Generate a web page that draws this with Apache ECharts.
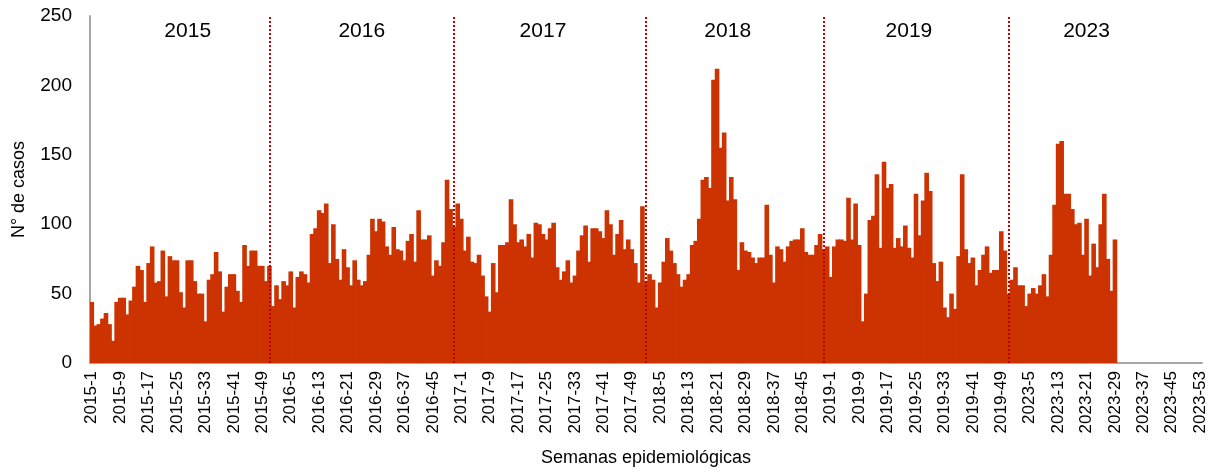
<!DOCTYPE html>
<html><head><meta charset="utf-8">
<script src="https://cdn.jsdelivr.net/npm/echarts@6/dist/echarts.min.js"></script>
<style>html,body{margin:0;padding:0;background:#fff}#c{width:1217px;height:472px}</style>
</head><body><div id="c"></div>
<script>
const yearList = [2015, 2016, 2017, 2018, 2019, 2023];
const weeksPerYear = [52, 52, 52, 52, 52, 53];
const cases2015 = [44,27,28,32,36,28,16,44,47,47,35,45,55,70,67,44,72,84,58,59,81,48,77,74,74,
  51,40,74,74,59,50,50,30,60,64,80,66,37,55,64,64,52,44,85,70,81,81,70,70,59,70,41];
const cases2016 = [56,46,59,56,66,40,62,66,64,58,93,97,110,108,115,72,100,75,60,82,69,56,74,60,56,59,
  78,104,95,104,102,84,78,98,82,81,74,88,93,73,110,89,89,92,63,74,70,87,132,111,98,115];
const cases2017 = [104,81,91,73,72,78,63,48,37,72,51,85,85,87,118,100,87,89,84,93,76,101,100,93,89,97,
  101,69,60,66,74,58,63,81,92,99,73,97,97,95,90,110,100,78,93,103,82,89,82,72,58,113];
const cases2018 = [59,64,60,40,58,73,90,81,72,64,55,60,64,85,88,104,132,134,126,204,212,155,166,117,134,118,67,
  87,81,80,76,72,76,76,114,78,58,84,82,73,84,88,89,89,97,80,78,78,85,93,82,84];
const cases2019 = [62,84,89,89,88,119,89,115,85,30,50,103,106,136,83,145,126,129,83,90,84,99,83,76,122,92,117,137,
  124,72,59,73,40,33,50,39,77,136,82,72,76,56,67,78,84,65,67,67,95,81,50,60];
const cases2023 = [69,56,56,41,50,54,50,56,64,48,78,114,158,160,122,122,111,100,101,78,104,63,86,69,100,122,75,52,89];
const yAxisTicks = [0, 50, 100, 150, 200, 250];
const xAxisTitle = 'Semanas epidemiológicas';
const yAxisTitle = 'N° de casos';

const casesByYear = [cases2015, cases2016, cases2017, cases2018, cases2019, cases2023];
const categories = [];
const values = [];
yearList.forEach((y, k) => {
  for (let w = 1; w <= weeksPerYear[k]; w++) {
    categories.push(y + '-' + w);
    const v = casesByYear[k][w - 1];
    values.push(v === undefined ? null : v);
  }
});

// divider lines & year-label anchors (layout, expressed as categories)
const dividerCats = ['2015-51', '2016-51', '2018-1', '2018-51', '2019-51'];
const yearLabelCats = ['2015-28', '2016-25', '2017-24', '2018-24', '2019-23', '2023-21'];

const FONT = '"Liberation Sans", Arial, sans-serif';
const BAR = '#cc3300';
const chart = echarts.init(document.getElementById('c'), null, {renderer: 'canvas'});
chart.setOption({
  animation: false,
  backgroundColor: '#ffffff',
  textStyle: {fontFamily: FONT},
  grid: {left: 90, right: 15, top: 16, bottom: 108, containLabel: false},
  xAxis: {
    type: 'category',
    data: categories,
    boundaryGap: true,
    axisLine: {show: true, lineStyle: {color: '#a6a6a6', width: 2}},
    axisTick: {show: false},
    axisLabel: {interval: 7, rotate: 90, fontSize: 17, color: '#000', fontFamily: FONT, margin: 8},
    name: xAxisTitle,
    nameLocation: 'middle',
    nameGap: 86,
    nameTextStyle: {fontSize: 18, color: '#000', fontFamily: FONT},
    splitLine: {show: false}
  },
  yAxis: {
    type: 'value',
    min: yAxisTicks[0],
    max: yAxisTicks[yAxisTicks.length - 1],
    interval: yAxisTicks[1] - yAxisTicks[0],
    axisLine: {show: true, lineStyle: {color: '#a6a6a6', width: 2}},
    axisTick: {show: false},
    splitLine: {show: false},
    axisLabel: {fontSize: 19, color: '#000', fontFamily: FONT, margin: 18},
    name: yAxisTitle,
    nameLocation: 'middle',
    nameGap: 62,
    nameRotate: 90,
    nameTextStyle: {fontSize: 18, color: '#000', fontFamily: FONT}
  },
  series: [{
    type: 'bar',
    data: values,
    barWidth: '130%',
    itemStyle: {color: BAR},
    markLine: {
      silent: true,
      symbol: ['none', 'none'],
      label: {show: false},
      lineStyle: {type: 'dotted', color: '#c00000', width: 2},
      data: dividerCats.map(c => ({xAxis: c}))
    },
    markPoint: {
      silent: true,
      symbol: 'rect',
      symbolSize: 1,
      itemStyle: {color: 'rgba(0,0,0,0)'},
      label: {show: true, position: 'inside', color: '#000', fontSize: 21, fontFamily: FONT, formatter: p => String(p.value)},
      data: yearLabelCats.map((c, i) => ({coord: [c, 239], value: yearList[i]}))
    }
  }]
});
</script>
</body></html>
